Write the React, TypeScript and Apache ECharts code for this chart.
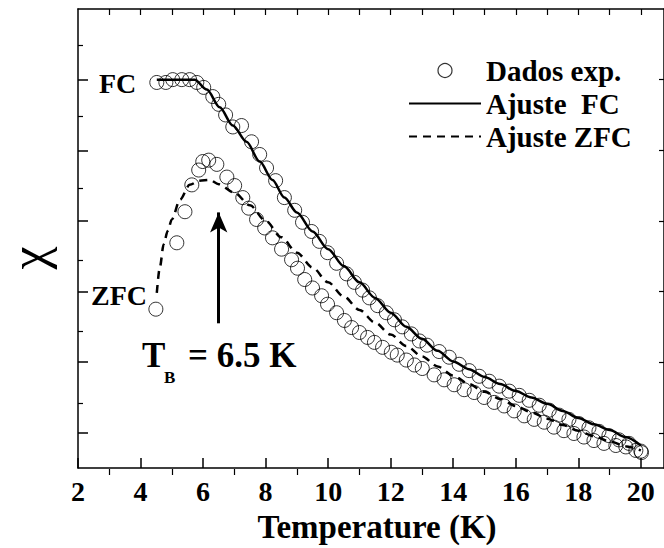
import React, { useEffect, useRef } from "react";
import * as echarts from "echarts";

// Field-cooled measurement (temperature in K, susceptibility in a.u.)
const fcTemp = [
  4.52, 4.81, 5.03, 5.32, 5.57, 5.8, 6.02, 6.31, 6.5, 6.72, 6.95, 7.23, 7.55, 7.81, 8.03, 8.32,
  8.6, 8.93, 9.18, 9.47, 9.72, 9.98, 10.27, 10.59, 10.84, 11.1, 11.32, 11.58, 11.86, 12.12, 12.37,
  12.66, 12.92, 13.16, 13.55, 13.87, 14.19, 14.51, 14.83, 15.15, 15.47, 15.79, 16.11, 16.43, 16.75,
  17.07, 17.38, 17.7, 18.02, 18.34, 18.66, 18.98, 19.3, 19.62, 20.0,
];
const fcChi = [
  5.96, 5.96, 6.0, 6.0, 6.0, 5.96, 5.89, 5.76, 5.65, 5.5, 5.33, 5.35, 5.12, 4.94, 4.75, 4.57,
  4.33, 4.15, 3.98, 3.85, 3.71, 3.55, 3.4, 3.25, 3.13, 3.02, 2.91, 2.8, 2.7, 2.6, 2.5,
  2.4, 2.3, 2.24, 2.15, 2.07, 1.97, 1.88, 1.8, 1.73, 1.66, 1.59, 1.53, 1.46, 1.39,
  1.32, 1.25, 1.19, 1.13, 1.07, 1.02, 0.96, 0.9, 0.85, 0.74,
];

// Zero-field-cooled measurement
const zfcTemp = [
  4.49, 5.16, 5.42, 5.64, 5.86, 5.99, 6.18, 6.44, 6.76, 7.01, 7.27, 7.46, 7.71, 7.97, 8.22, 8.51,
  8.83, 9.02, 9.25, 9.5, 9.79, 9.98, 10.27, 10.52, 10.75, 11.0, 11.26, 11.48, 11.74, 12.02, 12.21,
  12.5, 12.76, 13.01, 13.39, 13.71, 14.03, 14.35, 14.67, 14.99, 15.31, 15.63, 15.95, 16.27, 16.59,
  16.91, 17.22, 17.54, 17.86, 18.18, 18.5, 18.82, 19.2, 19.52, 19.84, 20.02,
];
const zfcChi = [
  2.75, 3.69, 4.13, 4.51, 4.72, 4.84, 4.86, 4.8, 4.62, 4.5, 4.33, 4.18, 4.02, 3.9, 3.76, 3.6,
  3.45, 3.33, 3.17, 3.05, 2.94, 2.82, 2.7, 2.59, 2.49, 2.42, 2.35, 2.28, 2.21, 2.14, 2.1,
  2.03, 1.96, 1.91, 1.82, 1.75, 1.68, 1.61, 1.57, 1.5, 1.43, 1.38, 1.31, 1.24, 1.19,
  1.15, 1.08, 1.03, 0.99, 0.94, 0.89, 0.85, 0.82, 0.8, 0.75, 0.72,
];

// Model fits
const fitFcTemp = [
  4.52, 5.73, 6.12, 6.53, 6.95, 7.39, 7.81, 8.22, 8.6, 9.0, 9.5, 10.0, 10.5, 11.0, 11.5, 12.0,
  12.5, 13.0, 13.5, 14.0, 14.5, 15.0, 15.5, 16.0, 16.5, 17.0, 17.5, 18.0, 18.5, 19.0, 19.5, 20.0,
];
const fitFcChi = [
  6.0, 6.0, 5.86, 5.61, 5.35, 5.12, 4.84, 4.58, 4.33, 4.12, 3.85, 3.6, 3.36, 3.13, 2.91, 2.7,
  2.5, 2.33, 2.16, 2.01, 1.9, 1.79, 1.69, 1.59, 1.5, 1.41, 1.31, 1.21, 1.12, 1.04, 0.94, 0.82,
];
const fitZfcTemp = [
  4.52, 4.62, 4.74, 4.87, 5.0, 5.26, 5.57, 5.89, 6.21, 6.5, 7.0, 7.5, 8.0, 8.5, 9.0, 9.5, 10.0,
  10.5, 11.0, 11.5, 12.0, 12.5, 13.0, 13.5, 14.0, 14.5, 15.0, 15.5, 16.0, 16.5, 17.0, 17.5, 18.0,
  18.5, 19.0, 19.5, 20.0,
];
const fitZfcChi = [
  2.98, 3.35, 3.67, 3.86, 4.02, 4.3, 4.51, 4.57, 4.58, 4.52, 4.4, 4.22, 4.0, 3.77, 3.55, 3.34,
  3.13, 2.93, 2.74, 2.56, 2.39, 2.23, 2.08, 1.94, 1.81, 1.69, 1.58, 1.48, 1.38, 1.29, 1.2, 1.11,
  1.03, 0.95, 0.88, 0.81, 0.75,
];

// Blocking temperature and the extent of the arrow marking it
const TB = 6.5;
const arrowChi = [2.55, 4.12];

// Axis ranges and ticks
const X_MIN = 2;
const X_MAX = 20.74;
const Y_MIN = 0.5;
const Y_MAX = 7;
const xMajorTicks = [2, 4, 6, 8, 10, 12, 14, 16, 18, 20];
const xMinorTicks = [3, 5, 7, 9, 11, 13, 15, 17, 19];
const xTopTicks = [3, 4, 5, 6, 7, 8, 9, 10, 11, 12, 13, 14, 15, 16, 17, 18, 19, 20];
const yMajorTicks = [1, 2, 3, 4, 5, 6];
const yMinorTicks = [1.5, 2.5, 3.5, 4.5, 5.5, 6.5];

const legendNames = ["Dados exp.", "Ajuste\u00A0\u00A0FC", "Ajuste ZFC"];

const SERIF = "Liberation Serif, Times New Roman, serif";
const BLACK = "#000";

const zip = (xs: number[], ys: number[]) => xs.map((x, i) => [x, ys[i]]);

const frameLine = { onZero: false, lineStyle: { color: BLACK, width: 1.5 } };

const boldText = (size: number) => ({
  fill: BLACK,
  fontFamily: SERIF,
  fontWeight: "bold",
  fontSize: size,
  align: "left",
  verticalAlign: "middle",
});

export default function App() {
  const ref = useRef<HTMLDivElement>(null);

  useEffect(() => {
    if (!ref.current) return;
    const chart = echarts.init(ref.current, undefined, { renderer: "svg" });

    const gridRect = { left: 78, top: 9, right: -1, bottom: 73 };

    const option: any = {
      animation: false,
      backgroundColor: "#fff",
      grid: [{ ...gridRect }, { ...gridRect }],
      xAxis: [
        {
          gridIndex: 0,
          type: "value",
          position: "bottom",
          min: X_MIN,
          max: X_MAX,
          axisLine: frameLine,
          axisTick: {
            inside: true,
            length: 10,
            customValues: xMajorTicks,
            lineStyle: { color: BLACK, width: 1.5 },
          },
          axisLabel: {
            customValues: xMajorTicks,
            color: BLACK,
            fontFamily: SERIF,
            fontWeight: "bold",
            fontSize: 28,
            margin: 9,
          },
          splitLine: { show: false },
          name: "Temperature (K)",
          nameLocation: "middle",
          nameGap: 36,
          nameTextStyle: {
            color: BLACK,
            fontFamily: SERIF,
            fontWeight: "bold",
            fontSize: 33,
            padding: [0, 0, 0, 12],
          },
        },
        {
          gridIndex: 0,
          type: "value",
          position: "top",
          min: X_MIN,
          max: X_MAX,
          axisLine: frameLine,
          axisTick: {
            inside: true,
            length: 6,
            customValues: xTopTicks,
            lineStyle: { color: BLACK, width: 1.2 },
          },
          axisLabel: { show: false },
          splitLine: { show: false },
        },
        {
          gridIndex: 1,
          type: "value",
          position: "bottom",
          min: X_MIN,
          max: X_MAX,
          axisLine: { show: false, onZero: false },
          axisTick: {
            inside: true,
            length: 6,
            customValues: xMinorTicks,
            lineStyle: { color: BLACK, width: 1.2 },
          },
          axisLabel: { show: false },
          splitLine: { show: false },
        },
      ],
      yAxis: [
        {
          gridIndex: 0,
          type: "value",
          position: "left",
          min: Y_MIN,
          max: Y_MAX,
          axisLine: frameLine,
          axisTick: {
            inside: true,
            length: 10,
            customValues: yMajorTicks,
            lineStyle: { color: BLACK, width: 1.5 },
          },
          axisLabel: { show: false },
          splitLine: { show: false },
        },
        {
          gridIndex: 0,
          type: "value",
          position: "right",
          min: Y_MIN,
          max: Y_MAX,
          axisLine: frameLine,
          axisTick: {
            inside: true,
            length: 5,
            customValues: yMajorTicks,
            lineStyle: { color: BLACK, width: 1.2 },
          },
          axisLabel: { show: false },
          splitLine: { show: false },
        },
        {
          gridIndex: 1,
          type: "value",
          position: "left",
          min: Y_MIN,
          max: Y_MAX,
          axisLine: { show: false, onZero: false },
          axisTick: {
            inside: true,
            length: 5,
            customValues: yMinorTicks,
            lineStyle: { color: BLACK, width: 1.2 },
          },
          axisLabel: { show: false },
          splitLine: { show: false },
        },
      ],
      legend: {
        orient: "vertical",
        left: 408,
        top: 56,
        padding: 0,
        itemWidth: 72,
        itemHeight: 14,
        itemGap: 4,
        selectedMode: false,
        data: [
          { name: legendNames[0] },
          // line-only keys: hide the marker dot the line legend adds by default
          { name: legendNames[1], itemStyle: { opacity: 0 } },
          { name: legendNames[2], itemStyle: { opacity: 0 } },
        ],
        itemStyle: { borderWidth: 1.2 },
        textStyle: {
          color: BLACK,
          fontFamily: SERIF,
          fontWeight: "bold",
          fontSize: 29,
        },
      },
      series: [
        {
          type: "scatter",
          name: legendNames[0],
          data: zip(fcTemp, fcChi),
          symbol: "circle",
          symbolSize: 14,
          itemStyle: { color: "rgba(0,0,0,0)", borderColor: BLACK, borderWidth: 1 },
          silent: true,
          z: 2,
        },
        {
          type: "scatter",
          name: legendNames[0],
          data: zip(zfcTemp, zfcChi),
          symbol: "circle",
          symbolSize: 14,
          itemStyle: { color: "rgba(0,0,0,0)", borderColor: BLACK, borderWidth: 1 },
          silent: true,
          z: 2,
        },
        {
          type: "line",
          name: legendNames[1],
          data: zip(fitFcTemp, fitFcChi),
          symbol: "none",
          showSymbol: false,
          smooth: 0.3,
          smoothMonotone: "x",
          itemStyle: { color: BLACK },
          lineStyle: { color: BLACK, width: 2.5, type: "solid" },
          silent: true,
          z: 3,
        },
        {
          type: "line",
          name: legendNames[2],
          data: zip(fitZfcTemp, fitZfcChi),
          symbol: "none",
          showSymbol: false,
          smooth: 0.3,
          smoothMonotone: "x",
          itemStyle: { color: BLACK },
          lineStyle: { color: BLACK, width: 2.5, type: [8, 6] },
          silent: true,
          z: 3,
          markLine: {
            silent: true,
            symbol: ["none", "arrow"],
            symbolSize: [13, 20],
            label: { show: false },
            lineStyle: { color: BLACK, width: 3, type: "solid" },
            emphasis: { disabled: true },
            data: [[{ coord: [TB, arrowChi[0]] }, { coord: [TB, arrowChi[1]] }]],
          },
        },
      ],
      graphic: [
        {
          type: "text",
          x: 28,
          y: 258,
          rotation: Math.PI / 2,
          style: {
            text: "\u03C7",
            fill: BLACK,
            fontFamily: SERIF,
            fontSize: 52,
            align: "center",
            verticalAlign: "middle",
          },
        },
        { type: "text", x: 99, y: 83, style: { text: "FC", ...boldText(28) } },
        { type: "text", x: 91, y: 295, style: { text: "ZFC", ...boldText(28) } },
        { type: "text", x: 142, y: 355, style: { text: "T", ...boldText(35) } },
        { type: "text", x: 164, y: 377, style: { text: "B", ...boldText(17) } },
        { type: "text", x: 188, y: 355, style: { text: `= ${TB} K`, ...boldText(35) } },
      ],
    };

    chart.setOption(option);
    return () => chart.dispose();
  }, []);

  return (
    <div
      ref={ref}
      style={{ position: "fixed", left: 0, top: 0, width: 664, height: 548, background: "#fff" }}
    />
  );
}
